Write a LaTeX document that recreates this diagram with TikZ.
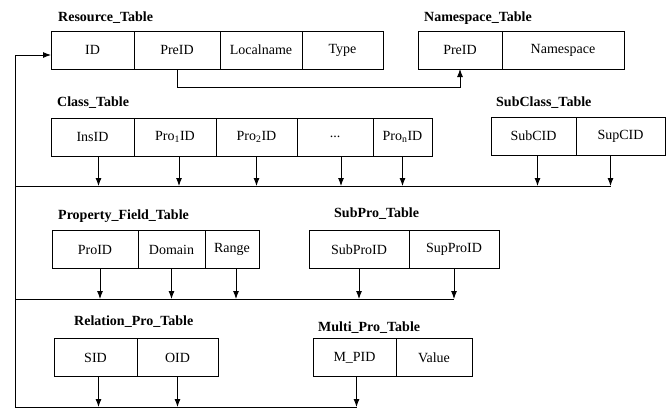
\documentclass[tikz,border=0pt]{standalone}
\usepackage{fontspec}
\setmainfont{Liberation Serif}
\usetikzlibrary{positioning, arrows.meta}
\tikzset{%
	cell/.style={draw, rectangle, minimum height=38pt, inner sep=0pt, outer sep=0pt, line width=0.9pt},
	tablename/.style={anchor=base west, inner sep=0pt, font=\fontsize{14}{16}\selectfont\bfseries},
	link/.style={-{Latex[length=8pt,width=6pt]}, line width=0.9pt},
	bus/.style={line width=0.9pt}
}

\begin{document}
\begin{tikzpicture}[x=1pt, y=-1pt, font=\fontsize{14}{16}\selectfont]
	\useasboundingbox (0,0) rectangle (669,410);

	\node[tablename] (restitle) at (58,21)  {Resource\_Table};
	\node[cell, minimum width=83pt, anchor=west] (resid)   at (51,50)  {ID};
	\node[cell, minimum width=86pt, right=0pt of resid]  (respre)  {PreID};
	\node[cell, minimum width=82pt, right=0pt of respre] (resloc)  {Localname};
	\node[cell, minimum width=81pt, right=0pt of resloc] (restype) {Type};

	\node[tablename] (nstitle) at (424,21) {Namespace\_Table};
	\node[cell, minimum width=84pt, anchor=west] (nspre)   at (418,50) {PreID};
	\node[cell, minimum width=122pt, right=0pt of nspre] (nsname) {Namespace};

	\node[tablename] (clstitle) at (57,106) {Class\_Table};
	\node[cell, minimum width=83pt, anchor=west] (clsins) at (51,137) {InsID};
	\node[cell, minimum width=82pt, right=0pt of clsins]  (clsp1)   {Pro\textsubscript{1}ID};
	\node[cell, minimum width=81pt, right=0pt of clsp1]   (clsp2)   {Pro\textsubscript{2}ID};
	\node[cell, minimum width=76pt, right=0pt of clsp2]   (clsdots) {...};
	\node[cell, minimum width=59pt, right=0pt of clsdots] (clspn)   {Pro\textsubscript{n}ID};

	\node[tablename] (subctitle) at (496,106) {SubClass\_Table};
	\node[cell, minimum width=85pt, anchor=west] (subc) at (491,136) {SubCID};
	\node[cell, minimum width=89pt, right=0pt of subc] (supc) {SupCID};

	\node[tablename] (pftitle) at (58,219) {Property\_Field\_Table};
	\node[cell, minimum width=86pt, anchor=west] (pfpro) at (52,249.5) {ProID};
	\node[cell, minimum width=67pt, right=0pt of pfpro] (pfdom) {Domain};
	\node[cell, minimum width=54pt, right=0pt of pfdom] (pfrng) {Range};

	\node[tablename] (subptitle) at (334,217) {SubPro\_Table};
	\node[cell, minimum width=100pt, anchor=west] (subp) at (309,249.5) {SubProID};
	\node[cell, minimum width=90pt, right=0pt of subp] (supp) {SupProID};

	\node[tablename] (reltitle) at (74,325) {Relation\_Pro\_Table};
	\node[cell, minimum width=83pt, anchor=west] (relsid) at (54,357.5) {SID};
	\node[cell, minimum width=81pt, right=0pt of relsid] (reloid) {OID};

	\node[tablename] (mtitle) at (318,331) {Multi\_Pro\_Table};
	\node[cell, minimum width=83pt, anchor=west] (mpid) at (313,357.5) {M\_PID};
	\node[cell, minimum width=76pt, right=0pt of mpid] (mval) {Value};

	\coordinate (busa)   at (15,186);
	\coordinate (busb)   at (15,299);
	\coordinate (busc)   at (15,407);
	\coordinate (corner) at (15,55);

	\draw[link] (respre.south) -- ++(0,18) -| (nspre.south);

	\draw[bus]  (busa) -- ([xshift=-10pt]supc.south |- busa);
	\draw[link] ([xshift=6pt]clsins.south)  -- ([xshift=6pt]clsins.south |- busa);
	\draw[link] ([xshift=4pt]clsp1.south)   -- ([xshift=4pt]clsp1.south |- busa);
	\draw[link] (clsp2.south)               -- (clsp2.south |- busa);
	\draw[link] ([xshift=6pt]clsdots.south) -- ([xshift=6pt]clsdots.south |- busa);
	\draw[link] (clspn.south)               -- (clspn.south |- busa);
	\draw[link] ([xshift=4pt]subc.south)    -- ([xshift=4pt]subc.south |- busa);
	\draw[link] ([xshift=-10pt]supc.south)  -- ([xshift=-10pt]supc.south |- busa);

	\draw[bus]  (busb) -- (supp.south |- busb);
	\draw[link] ([xshift=5pt]pfpro.south) -- ([xshift=5pt]pfpro.south |- busb);
	\draw[link] (pfdom.south)             -- (pfdom.south |- busb);
	\draw[link] ([xshift=4pt]pfrng.south) -- ([xshift=4pt]pfrng.south |- busb);
	\draw[link] (subp.south)              -- (subp.south |- busb);
	\draw[link] (supp.south)              -- (supp.south |- busb);

	\draw[bus]  (busc) -- ([xshift=2pt]mpid.south |- busc);
	\draw[link] ([xshift=3pt]relsid.south) -- ([xshift=3pt]relsid.south |- busc);
	\draw[link] (reloid.south)             -- (reloid.south |- busc);
	\draw[link] ([xshift=2pt]mpid.south)   -- ([xshift=2pt]mpid.south |- busc);

	\draw[link] (busc) -- (corner) -- (resid.west |- corner);
\end{tikzpicture}
\end{document}
